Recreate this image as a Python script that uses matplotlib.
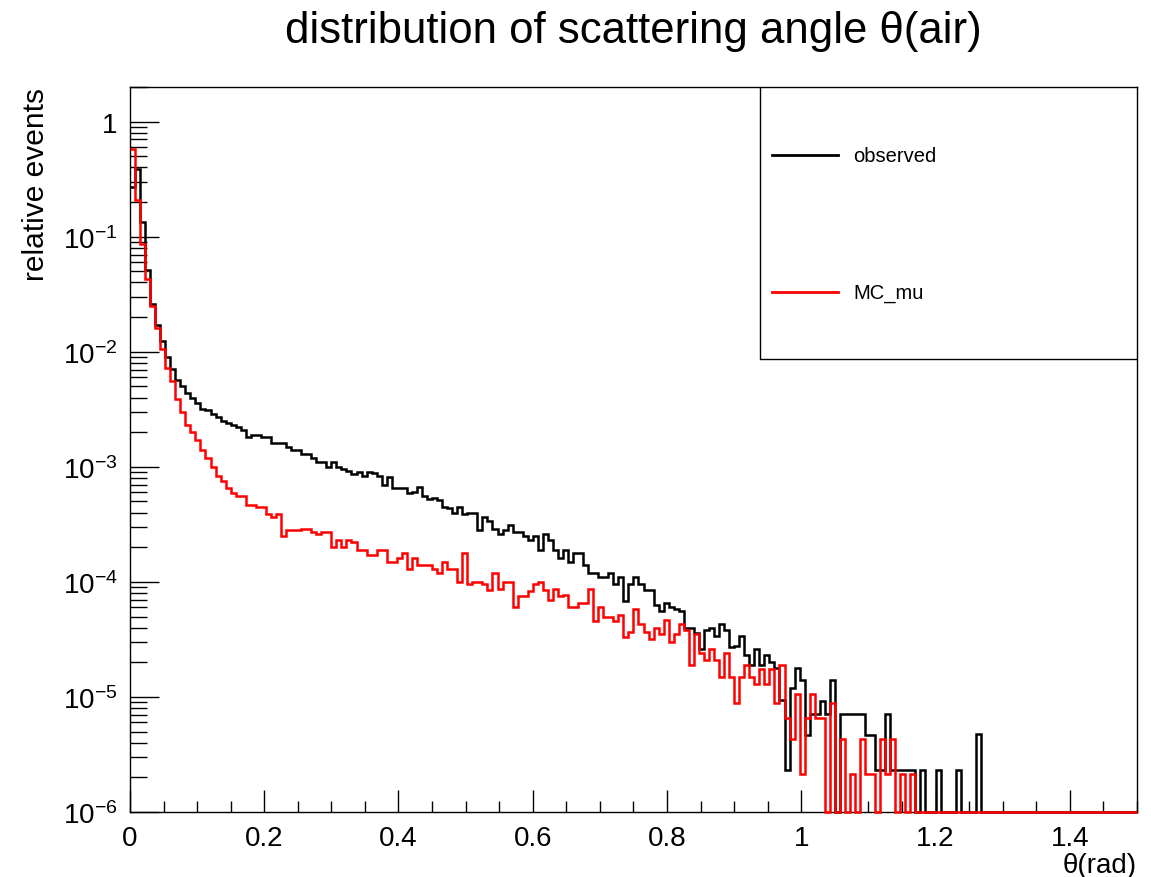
import matplotlib

matplotlib.use("Agg")
import matplotlib.pyplot as plt
import numpy as np
from matplotlib.patches import Rectangle
from matplotlib.ticker import FuncFormatter, LogLocator, MultipleLocator, NullFormatter

plt.rcParams["font.family"] = ["Liberation Sans", "DejaVu Sans"]
plt.rcParams["mathtext.fontset"] = "custom"
plt.rcParams["mathtext.rm"] = "Liberation Sans"
plt.rcParams["mathtext.it"] = "Liberation Sans"

# histogram binning: 200 bins over [0, 1.5] rad
THETA_MIN = 0.0
THETA_MAX = 1.5
N_BINS = 200

# normalised bin contents (0 = empty bin)
observed = [
    0.27, 0.39, 0.135, 0.051, 0.026, 0.017, 0.0123, 0.009, 0.0071, 0.0057,
    0.0050, 0.0044, 0.0040, 0.0036, 0.0032, 0.0031, 0.0029, 0.0027, 0.0025, 0.0024,
    0.0023, 0.0022, 0.0021, 0.0018, 0.0019, 0.0019, 0.0018, 0.0018, 0.0016, 0.0016,
    0.0016, 0.0015, 0.0014, 0.0014, 0.0013, 0.0013, 0.0012, 0.0011, 0.0011, 0.0010,
    0.0011, 0.0010, 0.00095, 0.00092, 0.00086, 0.00090, 0.00084, 0.00090, 0.00088, 0.00084,
    0.00070, 0.00082, 0.00066, 0.00066, 0.00066, 0.00059, 0.00060, 0.00067, 0.00056, 0.00053,
    0.00054, 0.00051, 0.00045, 0.00044, 0.00040, 0.00045, 0.00039, 0.00040, 0.00040, 0.00028,
    0.00037, 0.00034, 0.00029, 0.00026, 0.00028, 0.00031, 0.00027, 0.00027, 0.00025, 0.00023,
    0.00025, 0.00019, 0.00026, 0.00023, 0.00019, 0.00016, 0.00019, 0.00015, 0.00018, 0.00018,
    0.00014, 0.00012, 0.00012, 0.00011, 0.00011, 0.00012, 9.5e-5, 0.00011, 6.8e-5, 9.5e-5,
    0.00011, 9.5e-5, 8.5e-5, 8.5e-5, 6.3e-5, 5.6e-5, 6.5e-5, 6.0e-5, 5.8e-5, 5.6e-5,
    4.0e-5, 4.0e-5, 3.6e-5, 2.6e-5, 3.8e-5, 4.0e-5, 3.4e-5, 4.3e-5, 3.8e-5, 2.7e-5,
    2.8e-5, 3.4e-5, 2.3e-5, 1.9e-5, 2.6e-5, 1.9e-5, 2.3e-5, 2.0e-5, 1.8e-5, 9.5e-6,
    2.3e-6, 1.2e-5, 1.8e-5, 1.4e-5, 4.7e-6, 7.1e-6, 7.1e-6, 9.3e-6, 7.1e-6, 1.4e-5,
    0.0, 7.1e-6, 7.1e-6, 7.1e-6, 7.1e-6, 7.1e-6, 4.7e-6, 4.7e-6, 2.3e-6, 2.3e-6,
    7.1e-6, 2.3e-6, 2.3e-6, 2.3e-6, 2.3e-6, 2.3e-6, 0.0, 2.3e-6, 0.0, 0.0,
    2.3e-6, 0.0, 0.0, 0.0, 2.3e-6, 0.0, 0.0, 0.0, 4.8e-6, 0.0,
] + [0.0] * 30

mc_mu = [
    0.58, 0.21, 0.087, 0.043, 0.025, 0.016, 0.0105, 0.0072, 0.0056, 0.0039,
    0.0030, 0.0023, 0.0020, 0.0017, 0.0014, 0.0012, 0.0010, 0.00083, 0.00075, 0.00065,
    0.00059, 0.00056, 0.00056, 0.00047, 0.00047, 0.00045, 0.00045, 0.00039, 0.00037, 0.00039,
    0.00025, 0.00028, 0.00028, 0.00028, 0.00029, 0.00029, 0.00027, 0.00026, 0.00027, 0.00027,
    0.00020, 0.00023, 0.00020, 0.00023, 0.00022, 0.00019, 0.00019, 0.00017, 0.00017, 0.00019,
    0.00019, 0.00015, 0.00015, 0.00016, 0.00018, 0.00013, 0.00016, 0.00014, 0.00014, 0.00014,
    0.00013, 0.00012, 0.00015, 0.00013, 0.00013, 0.00010, 0.00018, 9.6e-5, 0.00010, 0.00010,
    9.6e-5, 8.5e-5, 0.00012, 8.7e-5, 0.00010, 0.00010, 6.0e-5, 7.5e-5, 7.5e-5, 8.3e-5,
    9.6e-5, 0.00010, 8.5e-5, 7.0e-5, 8.7e-5, 7.5e-5, 7.7e-5, 6.0e-5, 6.0e-5, 6.6e-5,
    6.6e-5, 8.7e-5, 4.6e-5, 6.0e-5, 5.0e-5, 5.0e-5, 4.6e-5, 5.2e-5, 3.3e-5, 3.7e-5,
    5.8e-5, 4.3e-5, 3.7e-5, 3.2e-5, 4.0e-5, 3.5e-5, 4.7e-5, 3.0e-5, 3.5e-5, 4.3e-5,
    3.8e-5, 1.9e-5, 3.5e-5, 2.4e-5, 2.1e-5, 2.6e-5, 2.1e-5, 1.5e-5, 2.4e-5, 1.5e-5,
    8.8e-6, 1.5e-5, 1.9e-5, 1.5e-5, 1.3e-5, 1.75e-5, 1.3e-5, 1.75e-5, 8.8e-6, 1.9e-5,
    6.6e-6, 4.3e-6, 1.06e-5, 2.15e-6, 6.6e-6, 1.06e-5, 6.6e-6, 6.6e-6, 0.0, 8.8e-6,
    0.0, 4.3e-6, 0.0, 2.15e-6, 0.0, 4.3e-6, 2.15e-6, 2.15e-6, 0.0, 4.3e-6,
    2.15e-6, 4.3e-6, 0.0, 2.15e-6, 0.0, 2.15e-6, 0.0, 0.0, 0.0, 0.0,
] + [0.0] * 40

series_labels = ["observed", "MC_mu"]
series_colors = ["black", "red"]

Y_MIN = 1e-6
Y_MAX = 2.0


def fmt_log(v, _pos):
    exp = int(round(np.log10(v)))
    if exp == 0:
        return "1"
    return r"$10^{%d}$" % exp


def main() -> None:
    edges = np.linspace(THETA_MIN, THETA_MAX, N_BINS + 1)

    fig = plt.figure(figsize=(11.51, 8.78), dpi=100)
    ax = fig.add_axes([0.1129, 0.074, 0.8749, 0.8258])

    for vals, label, color in zip([observed, mc_mu], series_labels, series_colors):
        v = np.asarray(vals, dtype=float)
        # ROOT draws empty bins on the lower frame of a log axis
        v = np.where(v > 0, v, Y_MIN)
        st = ax.stairs(v, edges, baseline=None, color=color, linewidth=1.8,
                       label=label, zorder=3)
        st.set_clip_on(False)

    ax.set_yscale("log")
    ax.set_xlim(THETA_MIN, THETA_MAX)
    ax.set_ylim(Y_MIN, Y_MAX)

    ax.xaxis.set_major_locator(MultipleLocator(0.2))
    ax.xaxis.set_minor_locator(MultipleLocator(0.05))
    ax.xaxis.set_major_formatter(FuncFormatter(lambda v, p: "%g" % round(v, 2)))
    ax.yaxis.set_major_locator(LogLocator(base=10, numticks=20))
    ax.yaxis.set_minor_locator(LogLocator(base=10, subs=np.arange(2, 10), numticks=20))
    ax.yaxis.set_major_formatter(FuncFormatter(fmt_log))
    ax.yaxis.set_minor_formatter(NullFormatter())

    ax.tick_params(axis="both", which="both", direction="in", top=False, right=False,
                   width=1.0, labelsize=20)
    ax.tick_params(axis="x", which="major", length=16, pad=9)
    ax.tick_params(axis="x", which="minor", length=8)
    ax.tick_params(axis="y", which="major", length=21, pad=9)
    ax.tick_params(axis="y", which="minor", length=12)
    for sp in ax.spines.values():
        sp.set_linewidth(1.0)

    ax.set_xlabel("θ(rad)", fontsize=20, loc="right", labelpad=1)
    ax.set_ylabel("relative events", fontsize=21.5, loc="top", labelpad=9)

    ax.text(0.5, 1.078, "distribution of scattering angle θ(air)", transform=ax.transAxes,
            ha="center", va="center", fontsize=31.5)

    # ROOT-style legend box in the upper right corner
    box = Rectangle((0.6256, 0.6248), 0.3744, 0.3752, transform=ax.transAxes,
                    facecolor="white", edgecolor="black", linewidth=1.0, zorder=5)
    ax.add_patch(box)
    for yy, label, color in zip([0.906, 0.717], series_labels, series_colors):
        ax.plot([0.6375, 0.703], [yy, yy], transform=ax.transAxes, color=color,
                linewidth=2.0, zorder=6)
        ax.text(0.718, yy, label, transform=ax.transAxes, ha="left", va="center",
                fontsize=14.5, zorder=6)

    fig.savefig("out.png", dpi=100)
    plt.close(fig)


if __name__ == "__main__":
    main()
